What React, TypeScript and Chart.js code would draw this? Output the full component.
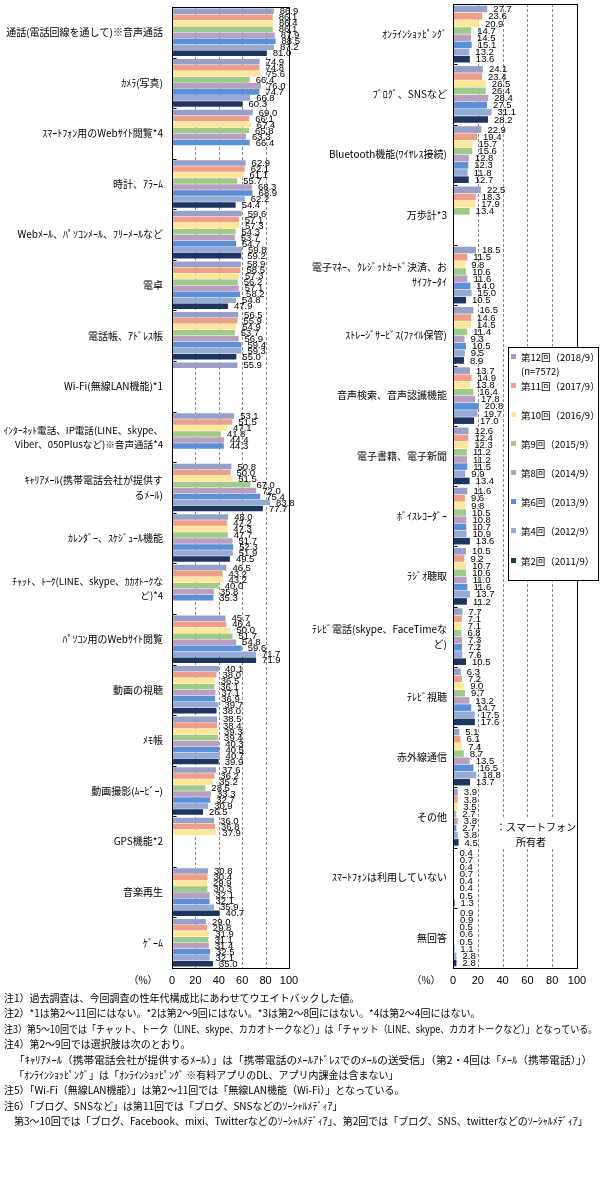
import React, { useEffect, useRef } from "react";
import { Chart, registerables } from "chart.js";
Chart.register(...registerables);

const SERIES = [
  "第12回（2018/9）",
  "第11回（2017/9）",
  "第10回（2016/9）",
  "第9回（2015/9）",
  "第8回（2014/9）",
  "第6回（2013/9）",
  "第4回（2012/9）",
  "第2回（2011/9）",
];
const SAMPLE_NOTE = "(n=7572)";
const COLORS = ["#97a0c8", "#ef9f88", "#ffe699", "#9fca8a", "#b9a0c0", "#5b8fd6", "#95aad4", "#1c365f"];

const LEFT_CATEGORIES: (string | string[])[] = [
  "通話(電話回線を通して)※音声通話",
  "ｶﾒﾗ(写真)",
  "ｽﾏｰﾄﾌｫﾝ用のWebｻｲﾄ閲覧*4",
  "時計、ｱﾗｰﾑ",
  "Webﾒｰﾙ、ﾊﾟｿｺﾝﾒｰﾙ、ﾌﾘｰﾒｰﾙなど",
  "電卓",
  "電話帳、ｱﾄﾞﾚｽ帳",
  "Wi-Fi(無線LAN機能)*1",
  ["ｲﾝﾀｰﾈｯﾄ電話、IP電話(LINE、skype、", "Viber、050Plusなど)※音声通話*4"],
  ["ｷｬﾘｱﾒｰﾙ(携帯電話会社が提供す", "るﾒｰﾙ)"],
  "ｶﾚﾝﾀﾞｰ、ｽｹｼﾞｭｰﾙ機能",
  ["ﾁｬｯﾄ、ﾄｰｸ(LINE、skype、ｶｶｵﾄｰｸな", "ど)*4"],
  "ﾊﾟｿｺﾝ用のWebｻｲﾄ閲覧",
  "動画の視聴",
  "ﾒﾓ帳",
  "動画撮影(ﾑｰﾋﾞｰ)",
  "GPS機能*2",
  "音楽再生",
  "ｹﾞｰﾑ",
];

const LEFT_R12 = [86.9, 74.9, 69.0, 62.9, 59.6, 58.9, 56.5, 55.9, 53.1, 50.8, 48.0, 46.5, 45.7, 40.1, 38.5, 37.6, 36.0, 30.8, 29.0];
const LEFT_R11 = [86.1, 74.8, 66.1, 62.1, 57.1, 58.5, 55.9, null, 51.5, 50.0, 47.2, 43.2, 46.4, 38.0, 38.4, 36.2, 36.8, 30.4, 29.8];
const LEFT_R10 = [86.4, 75.6, 67.4, 61.1, 57.3, 57.3, 54.9, null, 47.1, 51.5, 47.3, 43.2, 50.0, 36.5, 39.3, 35.2, 37.9, 29.9, 31.9];
const LEFT_R9 = [86.1, 66.4, 65.8, 55.7, 54.3, 56.2, 53.7, null, 41.8, 67.0, 47.7, 40.0, 51.7, 36.1, 39.4, 28.5, null, 30.3, 31.1];
const LEFT_R8 = [87.9, 76.0, 63.3, 68.3, 53.7, 57.1, 56.9, null, 44.4, 72.0, 51.7, 35.8, 54.8, 37.1, 40.3, 33.3, null, 32.1, 31.4];
const LEFT_R6 = [88.5, 74.7, 66.4, 68.9, 54.7, 58.2, 59.4, null, 44.3, 75.4, 52.3, 35.3, 59.6, 36.9, 40.5, 32.7, null, 32.1, 32.5];
const LEFT_R4 = [87.2, 66.8, null, 62.2, 59.8, 54.8, 59.3, null, null, 83.8, 51.9, null, 71.7, 39.7, 40.7, 30.9, null, 35.9, 32.1];
const LEFT_R2 = [81.0, 60.3, null, 54.4, 59.2, 47.9, 55.0, null, null, 77.7, 49.5, null, 71.9, 38.0, 39.9, 26.5, null, 40.7, 35.0];

const RIGHT_CATEGORIES: (string | string[])[] = [
  "ｵﾝﾗｲﾝｼｮｯﾋﾟﾝｸﾞ",
  "ﾌﾞﾛｸﾞ、SNSなど",
  "Bluetooth機能(ﾜｲﾔﾚｽ接続)",
  "万歩計*3",
  ["電子ﾏﾈｰ、ｸﾚｼﾞｯﾄｶｰﾄﾞ決済、お", "ｻｲﾌｹｰﾀｲ"],
  "ｽﾄﾚｰｼﾞｻｰﾋﾞｽ(ﾌｧｲﾙ保管)",
  "音声検索、音声認識機能",
  "電子書籍、電子新聞",
  "ﾎﾞｲｽﾚｺｰﾀﾞｰ",
  "ﾗｼﾞｵ聴取",
  ["ﾃﾚﾋﾞ電話(skype、FaceTimeな", "ど)"],
  "ﾃﾚﾋﾞ視聴",
  "赤外線通信",
  "その他",
  "ｽﾏｰﾄﾌｫﾝは利用していない",
  "無回答",
];

const RIGHT_R12 = [27.7, 24.1, 22.9, 22.5, 18.5, 16.5, 13.7, 12.6, 11.6, 10.5, 7.7, 6.3, 5.1, 3.9, 0.4, 0.9];
const RIGHT_R11 = [23.6, 23.4, 19.4, 18.3, 11.5, 14.6, 14.9, 12.4, 9.6, 9.2, 7.1, 7.2, 6.1, 3.8, 0.7, 0.9];
const RIGHT_R10 = [20.9, 26.5, 15.7, 17.9, 9.8, 14.5, 13.8, 12.3, 9.8, 10.7, 7.1, 9.0, 7.4, 3.5, 0.4, 0.5];
const RIGHT_R9 = [14.7, 26.4, 15.6, 13.4, 10.6, 11.4, 16.4, 11.2, 10.5, 10.6, 6.8, 9.7, 8.7, 2.7, 0.7, 0.6];
const RIGHT_R8 = [14.5, 28.4, 12.8, null, 11.6, 9.3, 17.8, 11.2, 10.8, 11.0, 7.3, 13.2, 13.5, 3.8, 0.4, 0.5];
const RIGHT_R6 = [15.1, 27.5, 12.3, null, 14.0, 10.5, 20.8, 11.5, 10.7, 11.6, 7.2, 14.7, 16.5, 2.7, 0.4, 1.1];
const RIGHT_R4 = [13.2, 31.1, 11.8, null, 15.0, 9.5, 19.7, 9.9, 10.9, 13.7, 7.6, 17.5, 18.8, 3.8, 0.5, 2.8];
const RIGHT_R2 = [13.6, 28.2, 12.7, null, 10.5, 8.9, 17.0, 13.4, 13.6, 11.2, 10.5, 17.6, 13.7, 4.5, 1.3, 2.8];

const X_TICKS = [0, 20, 40, 60, 80, 100];
const GRID_VALUES = [20, 40, 60, 80];
const UNIT_LABEL = "（%）";
const OWNER_NOTE = ["：スマートフォン", "所有者"];

const NOTES = [
  "注1）過去調査は、今回調査の性年代構成比にあわせてウエイトバックした値。",
  "注2）*1は第2～11回にはない。*2は第2～9回にはない。*3は第2～8回にはない。*4は第2～4回にはない。",
  "注3）第5～10回では「チャット、トーク（LINE、skype、カカオトークなど）」は「チャット（LINE、skype、カカオトークなど）」となっている。",
  "注4）第2～9回では選択肢は次のとおり。",
  "「ｷｬﾘｱﾒｰﾙ（携帯電話会社が提供するﾒｰﾙ）」は「携帯電話のﾒｰﾙｱﾄﾞﾚｽでのﾒｰﾙの送受信」（第2・4回は「ﾒｰﾙ（携帯電話）」）",
  "「ｵﾝﾗｲﾝｼｮｯﾋﾟﾝｸﾞ」は「ｵﾝﾗｲﾝｼｮｯﾋﾟﾝｸﾞ ※有料アプリのDL、アプリ内課金は含まない」",
  "注5）「Wi-Fi（無線LAN機能）」は第2～11回では「無線LAN機能（Wi-Fi）」となっている。",
  "注6）「ブログ、SNSなど」は第11回では「ブログ、SNSなどのｿｰｼｬﾙﾒﾃﾞｨｱ」",
  "第3～10回では「ブログ、Facebook、mixi、Twitterなどのｿｰｼｬﾙﾒﾃﾞｨｱ」、第2回では「ブログ、SNS、twitterなどのｿｰｼｬﾙﾒﾃﾞｨｱ」",
];
const NOTE_INDENT = [0, 0, 0, 0, 1, 1, 0, 0, 1];
const NOTE_RIGHT: (number | null)[] = [null, null, 597, null, 592, null, null, null, null];

const JP = "'Noto Sans CJK JP', 'Noto Sans', sans-serif";
const NUM = "'Liberation Sans', Arial, sans-serif";

type Side = {
  categories: (string | string[])[];
  series: (number | null)[][];
  axisWidth: number;
  padTop: number;
  padRight: number;
  width: number;
  labelPad: number;
  catPct: number;
  barPct: number;
  lineHeight: number;
  unitX: number;
  extra?: (chart: any) => void;
};

function framePlugin(side: Side) {
  return {
    id: "frame",
    beforeDatasetsDraw(chart: any) {
      const { ctx, chartArea: a, scales } = chart;
      const x = scales.x;
      ctx.save();
      ctx.strokeStyle = "#8c8c8c";
      ctx.lineWidth = 1;
      ctx.setLineDash([3, 2]);
      for (const v of GRID_VALUES) {
        const px = Math.round(x.getPixelForValue(v)) + 0.5;
        ctx.beginPath();
        ctx.moveTo(px, a.top);
        ctx.lineTo(px, a.bottom);
        ctx.stroke();
      }
      ctx.restore();
    },
    afterDatasetsDraw(chart: any) {
      const { ctx, chartArea: a, scales } = chart;
      const y = scales.y;
      ctx.save();
      ctx.strokeStyle = "#000";
      ctx.lineWidth = 1;
      ctx.setLineDash([]);
      const l = Math.round(a.left) + 0.5;
      const r = Math.round(a.right) + 0.5;
      const t = Math.round(a.top) + 0.5;
      const b = Math.round(a.bottom) + 0.5;
      ctx.strokeRect(l, t, r - l, b - t);
      const n = side.categories.length;
      for (let i = 1; i < n; i++) {
        const py = Math.round((y.getPixelForTick(i - 1) + y.getPixelForTick(i)) / 2) + 0.5;
        ctx.beginPath();
        ctx.moveTo(l, py);
        ctx.lineTo(l + 4, py);
        ctx.stroke();
      }
      // value labels
      ctx.fillStyle = "#000";
      ctx.font = `9.5px ${NUM}`;
      ctx.textAlign = "left";
      ctx.textBaseline = "middle";
      chart.data.datasets.forEach((ds: any, di: number) => {
        const meta = chart.getDatasetMeta(di);
        meta.data.forEach((el: any, i: number) => {
          const v = ds.data[i];
          if (v === null || v === undefined) return;
          ctx.fillText(v.toFixed(1), el.x + 6, el.y + 0.5);
        });
      });
      // unit label
      ctx.font = `10px ${JP}`;
      ctx.textAlign = "center";
      ctx.fillText(UNIT_LABEL, side.unitX, 980);
      ctx.restore();
    },
    afterDraw(chart: any) {
      if (side.extra) side.extra(chart);
    },
  };
}

function rightExtras(chart: any) {
  const { ctx } = chart;
  ctx.save();
  // owner note box
  ctx.fillStyle = "#fff";
  ctx.fillRect(190, 818, 86, 31);
  ctx.fillStyle = "#000";
  ctx.font = `10px ${JP}`;
  ctx.textBaseline = "middle";
  ctx.textAlign = "left";
  ctx.fillText(OWNER_NOTE[0], 196, 827);
  ctx.textAlign = "center";
  ctx.fillText(OWNER_NOTE[1], 231, 842);
  // legend
  const bx = 208.5, by = 347.5, bw = 90, bh = 233;
  ctx.fillStyle = "#fff";
  ctx.fillRect(bx, by, bw, bh);
  ctx.strokeStyle = "#000";
  ctx.lineWidth = 1;
  ctx.strokeRect(bx, by, bw, bh);
  const ys = [357, 386, 415, 444, 473, 502, 531, 561];
  ctx.textAlign = "left";
  ctx.font = `9.5px ${JP}`;
  SERIES.forEach((s, i) => {
    ctx.fillStyle = COLORS[i];
    ctx.fillRect(211, ys[i] - 3, 5, 5);
    ctx.fillStyle = "#000";
    ctx.fillText(s, 221, ys[i]);
  });
  ctx.fillText(SAMPLE_NOTE, 221, 371);
  ctx.restore();
}

function labelFont(side: Side) {
  return (c: any) => {
    const lab = side.categories[c.index];
    const long = Array.isArray(lab) && lab.join("").includes("LINE");
    return { family: JP, size: long ? 9.6 : 10, lineHeight: side.lineHeight };
  };
}

function ChartPanel({ side, left }: { side: Side; left: number }) {
  const ref = useRef<HTMLCanvasElement>(null);
  useEffect(() => {
    const canvas = ref.current!;
    const chart = new Chart(canvas, {
      type: "bar",
      data: {
        labels: side.categories as any,
        datasets: side.series.map((d, i) => ({
          label: SERIES[i],
          data: d,
          backgroundColor: COLORS[i],
          borderWidth: 0,
          categoryPercentage: side.catPct,
          barPercentage: side.barPct,
        })),
      },
      options: {
        indexAxis: "y",
        animation: false,
        responsive: false,
        maintainAspectRatio: false,
        layout: { padding: { top: side.padTop, right: side.padRight, left: 0, bottom: 0 } },
        plugins: { legend: { display: false }, tooltip: { enabled: false } },
        scales: {
          x: {
            min: 0,
            max: 100,
            afterBuildTicks: (s: any) => {
              s.ticks = X_TICKS.map((v) => ({ value: v }));
            },
            ticks: { color: "#000", font: { family: NUM, size: 11 }, padding: 6, maxRotation: 0 },
            grid: { display: false, drawTicks: false, tickLength: 0 },
            border: { display: false },
            afterFit: (s: any) => {
              s.height = 27;
              s.paddingLeft = 0;
              s.paddingRight = 0;
            },
          },
          y: {
            ticks: {
              autoSkip: false,
              color: "#000",
              font: labelFont(side),
              padding: side.labelPad,
            },
            grid: { display: false, drawTicks: false, tickLength: 0 },
            border: { display: false },
            afterFit: (s: any) => {
              s.width = side.axisWidth;
              s.paddingTop = 0;
              s.paddingBottom = 0;
            },
          },
        },
      } as any,
      plugins: [framePlugin(side)],
    });
    return () => chart.destroy();
  }, []);
  return (
    <canvas
      ref={ref}
      width={side.width}
      height={995}
      style={{ position: "absolute", left, top: 0, width: side.width, height: 995 }}
    />
  );
}

const LEFT_SIDE: Side = {
  categories: LEFT_CATEGORIES,
  series: [LEFT_R12, LEFT_R11, LEFT_R10, LEFT_R9, LEFT_R8, LEFT_R6, LEFT_R4, LEFT_R2],
  axisWidth: 172,
  padTop: 7,
  padRight: 11,
  width: 300,
  labelPad: 9,
  catPct: 0.95,
  barPct: 0.92,
  lineHeight: 1.45,
  unitX: 143,
};

const RIGHT_SIDE: Side = {
  categories: RIGHT_CATEGORIES,
  series: [RIGHT_R12, RIGHT_R11, RIGHT_R10, RIGHT_R9, RIGHT_R8, RIGHT_R6, RIGHT_R4, RIGHT_R2],
  axisWidth: 153,
  padTop: 4,
  padRight: 38,
  width: 315,
  labelPad: 6,
  catPct: 0.95,
  barPct: 0.92,
  lineHeight: 1.5,
  unitX: 126,
  extra: rightExtras,
};

export default function App() {
  const noteRefs = useRef<(HTMLDivElement | null)[]>([]);
  useEffect(() => {
    noteRefs.current.forEach((el, i) => {
      const right = NOTE_RIGHT[i];
      if (!el || right === null) return;
      const left = NOTE_INDENT[i] ? 14 : 4;
      const w = el.scrollWidth;
      if (w > 0) el.style.transform = `scaleX(${(right - left) / w})`;
    });
  }, []);
  return (
    <div style={{ position: "absolute", left: 0, top: 0, width: 615, height: 1200, background: "#fff", overflow: "hidden" }}>
      <ChartPanel side={LEFT_SIDE} left={0} />
      <ChartPanel side={RIGHT_SIDE} left={300} />
      {NOTES.map((t, i) => (
        <div
          key={i}
          ref={(el) => {
            noteRefs.current[i] = el;
          }}
          style={{
            position: "absolute",
            left: NOTE_INDENT[i] ? 14 : 4,
            top: 991 + i * 15.4,
            fontFamily: JP,
            fontSize: 10,
            lineHeight: "14px",
            whiteSpace: "nowrap",
            color: "#000",
            transformOrigin: "0 0",
          }}
        >
          {t}
        </div>
      ))}
    </div>
  );
}
